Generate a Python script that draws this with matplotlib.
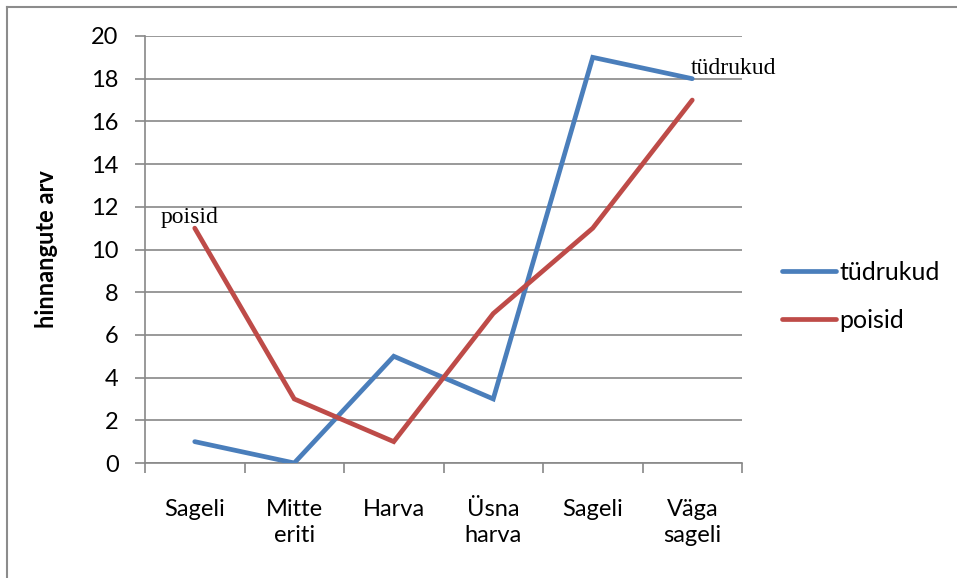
import matplotlib

matplotlib.use("Agg")

import matplotlib.pyplot as plt
from matplotlib.lines import Line2D


categories = ["Sageli", "Mitte\neriti", "Harva", "Üsna\nharva", "Sageli", "Väga\nsageli"]
tudrukud = [1, 0, 5, 3, 19, 18]
poisid = [11, 3, 1, 7, 11, 17]
y_ticks = list(range(0, 21, 2))

BLUE = "#4A7EBB"
RED = "#BE4B48"
GRID = "#888888"

plt.rcParams["font.family"] = ["Lato", "DejaVu Sans"]


def main() -> None:
    fig = plt.figure(figsize=(9.57, 5.78), dpi=100)
    ax = fig.add_axes([145 / 957, 1 - 463 / 578, (742 - 145) / 957, (463 - 36) / 578])

    x = [i + 0.5 for i in range(len(categories))]
    ax.plot(x, tudrukud, color=BLUE, linewidth=3.4, solid_capstyle="round", solid_joinstyle="miter", label="tüdrukud", zorder=3)
    ax.plot(x, poisid, color=RED, linewidth=3.4, solid_capstyle="round", solid_joinstyle="miter", label="poisid", zorder=3)

    ax.set_xlim(0, len(categories))
    ax.set_ylim(0, 20)
    ax.set_yticks(y_ticks)
    ax.yaxis.grid(True, color=GRID, linewidth=1.2)
    ax.set_axisbelow(True)

    # category boundaries get the tick marks, labels sit in the middle
    ax.set_xticks(range(len(categories) + 1))
    ax.set_xticklabels([])
    ax.set_xticks(x, minor=True)
    ax.set_xticklabels(categories, minor=True, fontsize=17, linespacing=1.3)
    ax.tick_params(axis="x", which="minor", length=0, pad=26)
    ax.tick_params(axis="x", which="major", direction="out", length=7, color=GRID, width=1.2)
    ax.tick_params(axis="y", direction="out", length=7, color=GRID, width=1.2, labelsize=17, pad=12)

    for side in ["top", "right"]:
        ax.spines[side].set_visible(False)
    for side in ["left", "bottom"]:
        ax.spines[side].set_color(GRID)
        ax.spines[side].set_linewidth(1.2)

    ax.set_ylabel("hinnangute arv", fontsize=17, fontweight="bold", labelpad=24)

    ax.annotate("poisid", (x[0], poisid[0]), xytext=(-4, 0), textcoords="offset points",
                ha="center", va="bottom", fontsize=17, family="Liberation Serif")
    ax.annotate("tüdrukud", (x[-1], tudrukud[-1]), xytext=(-1, 0), textcoords="offset points",
                ha="left", va="bottom", fontsize=17, family="Liberation Serif")

    ax.legend(loc="center left", bbox_to_anchor=(1.067, 0.39), frameon=False, fontsize=18,
              handlelength=2.15, handletextpad=0.15, labelspacing=1.0, borderaxespad=0.0,
              borderpad=0.0)

    # outer frame of the chart area (only top and left edges visible)
    fig.add_artist(Line2D([7 / 957, 7 / 957], [0, 1 - 7 / 578], transform=fig.transFigure, color="#8c8c8c", linewidth=1.5))
    fig.add_artist(Line2D([7 / 957, 1], [1 - 7 / 578, 1 - 7 / 578], transform=fig.transFigure, color="#8c8c8c", linewidth=1.5))

    fig.savefig("out.png", dpi=100)
    plt.close(fig)


if __name__ == "__main__":
    main()
